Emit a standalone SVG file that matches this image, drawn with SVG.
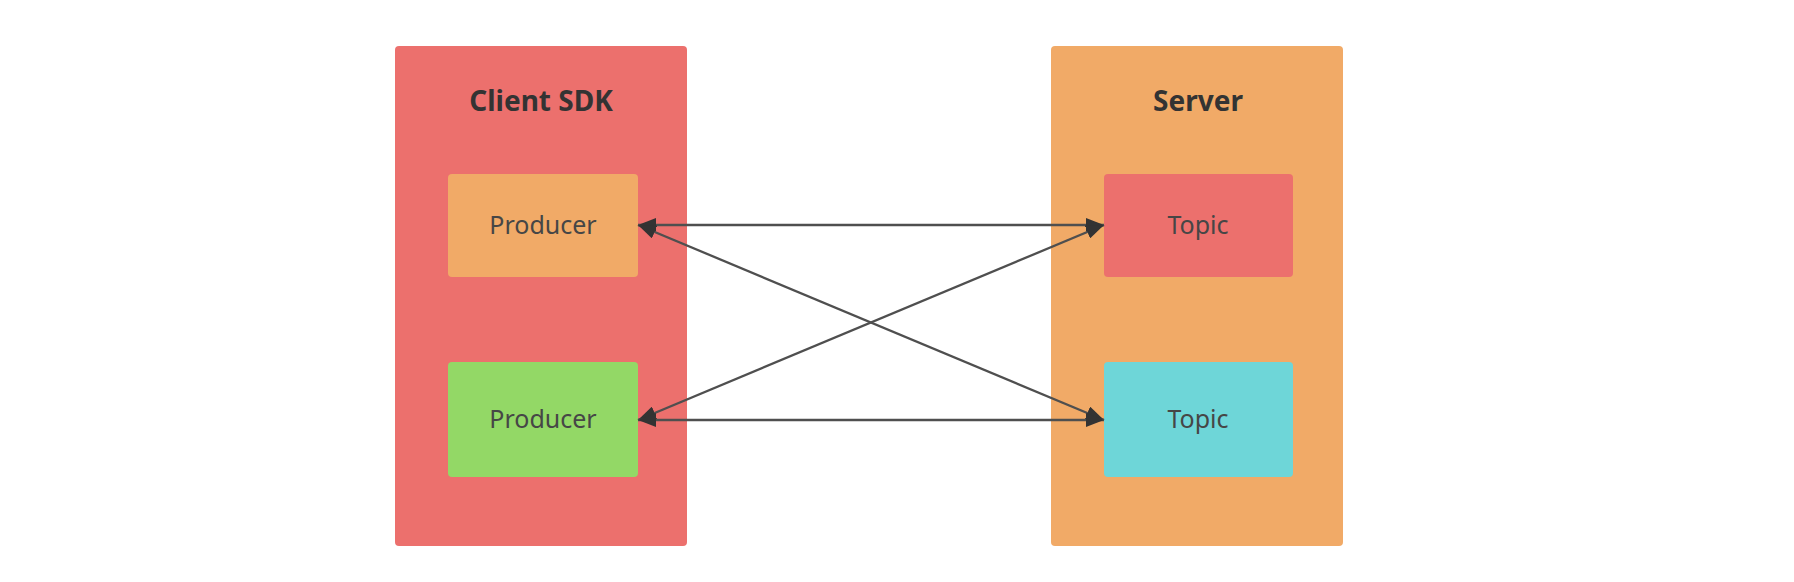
<svg xmlns="http://www.w3.org/2000/svg" width="1794" height="582" viewBox="0 0 1794 582">
  <style>
    .title { font-family: "Noto Sans", "Open Sans", sans-serif; font-weight: bold; font-size: 28px; fill: #333333; text-anchor: middle; }
    .label { font-family: "Noto Sans", "Open Sans", sans-serif; font-size: 25px; fill: #464646; text-anchor: middle; }
    .conn { stroke: #4f4f4f; stroke-width: 2.3; fill: none; marker-start: url(#arrow); marker-end: url(#arrow); }
  </style>
  <defs>
    <marker id="arrow" markerUnits="userSpaceOnUse" markerWidth="18" markerHeight="14" refX="18" refY="7" orient="auto-start-reverse">
      <path d="M0,0 L18,7 L0,14 z" fill="#333333"/>
    </marker>
  </defs>
  <rect width="1794" height="582" fill="#ffffff"/>

  <g id="client-sdk">
    <rect x="395" y="46" width="292" height="500" rx="4" fill="#EC706D"/>
    <text class="title" x="541" y="111">Client SDK</text>
  </g>
  <g id="server">
    <rect x="1051" y="46" width="292" height="500" rx="4" fill="#F1AA67"/>
    <text class="title" x="1198" y="111">Server</text>
  </g>
  <g id="producer1">
    <rect x="448" y="174" width="190" height="103" rx="4" fill="#F1AA67"/>
    <text class="label" x="543" y="234">Producer</text>
  </g>
  <g id="producer2">
    <rect x="448" y="362" width="190" height="115" rx="4" fill="#93D866"/>
    <text class="label" x="543" y="428">Producer</text>
  </g>
  <g id="topic1">
    <rect x="1104" y="174" width="189" height="103" rx="4" fill="#EC706D"/>
    <text class="label" x="1198" y="234">Topic</text>
  </g>
  <g id="topic2">
    <rect x="1104" y="362" width="189" height="115" rx="4" fill="#6ED6D8"/>
    <text class="label" x="1198" y="428">Topic</text>
  </g>

  <g id="connectors">
    <line class="conn" x1="638" y1="225" x2="1104" y2="225"/>
    <line class="conn" x1="638" y1="225" x2="1104" y2="420"/>
    <line class="conn" x1="638" y1="420" x2="1104" y2="225"/>
    <line class="conn" x1="638" y1="420" x2="1104" y2="420"/>
  </g>
</svg>
